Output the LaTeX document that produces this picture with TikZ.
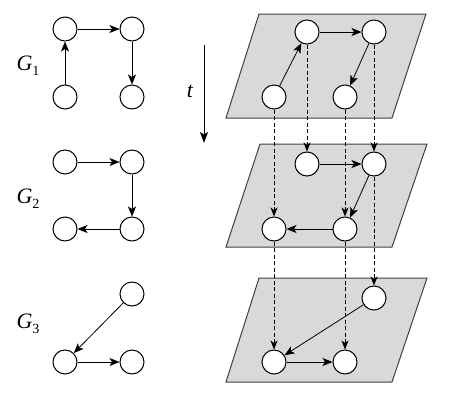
\documentclass[tikz,border=0pt]{standalone}
\usepackage{fontspec}
\setmainfont{Liberation Serif}
\usetikzlibrary{arrows.meta}
\begin{document}
\begin{tikzpicture}[x=1pt,y=-1pt,
  vtx/.style={circle,draw,line width=1pt,fill=white,minimum size=24pt,inner sep=0pt},
  plane/.style={draw=black!75,line width=1pt,fill=gray!30},
  edge/.style={line width=0.8pt,-{Stealth[length=10pt,width=8pt,inset=2.5pt]}},
  proj/.style={line width=0.8pt,dashed,dash pattern=on 4pt off 2.5pt,-{Stealth[length=9pt,width=7pt,inset=2.5pt]}},
  glabel/.style={font=\fontsize{22}{24}\selectfont}]
\useasboundingbox (0,0) rectangle (450,400);
% planes
\draw[plane] (259,14) -- (426,14) -- (392,118) -- (226,118) -- cycle;
\draw[plane] (260,144) -- (427,144) -- (392,247) -- (226,247) -- cycle;
\draw[plane] (259,278) -- (427,278) -- (392,382) -- (226,382) -- cycle;
% left graphs
\node[vtx] (a1) at (65,29) {};
\node[vtx] (b1) at (132,29) {};
\node[vtx] (c1) at (65,97) {};
\node[vtx] (d1) at (132,97) {};
\node[vtx] (a2) at (65,162) {};
\node[vtx] (b2) at (132,162) {};
\node[vtx] (c2) at (65,229) {};
\node[vtx] (d2) at (132,229) {};
\node[vtx] (b3) at (132,294) {};
\node[vtx] (c3) at (65,362) {};
\node[vtx] (d3) at (132,362) {};
\draw[edge] (c1) -- (a1);
\draw[edge] (a1) -- (b1);
\draw[edge] (b1) -- (d1);
\draw[edge] (a2) -- (b2);
\draw[edge] (b2) -- (d2);
\draw[edge] (d2) -- (c2);
\draw[edge] (b3) -- (c3);
\draw[edge] (c3) -- (d3);
% labels
\node[glabel] (g1) at (28,66) {{\itshape G}\raisebox{-0.5ex}{\fontsize{14}{14}\selectfont 1}};
\node[glabel] (g2) at (28,199) {{\itshape G}\raisebox{-0.5ex}{\fontsize{14}{14}\selectfont 2}};
\node[glabel] (g3) at (28,324) {{\itshape G}\raisebox{-0.5ex}{\fontsize{14}{14}\selectfont 3}};
% time arrow
\coordinate (ts) at (204,45);
\coordinate (te) at (204,143);
\draw[line width=0.9pt,-{Stealth[length=11pt,width=8pt,inset=2.5pt]}] (ts) -- (te);
\node[glabel] (tl) at (190,91) {\itshape t};
% right planes nodes
\node[vtx] (p1a) at (307,32) {};
\node[vtx] (p1b) at (374,32) {};
\node[vtx] (p1c) at (274,97) {};
\node[vtx] (p1d) at (345,97) {};
\node[vtx] (p2a) at (307,164) {};
\node[vtx] (p2b) at (374,164) {};
\node[vtx] (p2c) at (274,229) {};
\node[vtx] (p2d) at (345,229) {};
\node[vtx] (p3b) at (374,298) {};
\node[vtx] (p3c) at (274,362) {};
\node[vtx] (p3d) at (345,362) {};
% projections
\draw[proj] (p1a) -- (p2a);
\draw[proj] (p1b) -- (p2b);
\draw[proj] (p1c) -- (p2c);
\draw[proj] (p1d) -- (p2d);
\draw[proj] (p2b) -- (p3b);
\draw[proj] (p2c) -- (p3c);
\draw[proj] (p2d) -- (p3d);
% plane edges
\draw[edge] (p1c) -- (p1a);
\draw[edge] (p1a) -- (p1b);
\draw[edge] (p1b) -- (p1d);
\draw[edge] (p2a) -- (p2b);
\draw[edge] (p2b) -- (p2d);
\draw[edge] (p2d) -- (p2c);
\draw[edge] (p3b) -- (p3c);
\draw[edge] (p3c) -- (p3d);
\end{tikzpicture}
\end{document}
